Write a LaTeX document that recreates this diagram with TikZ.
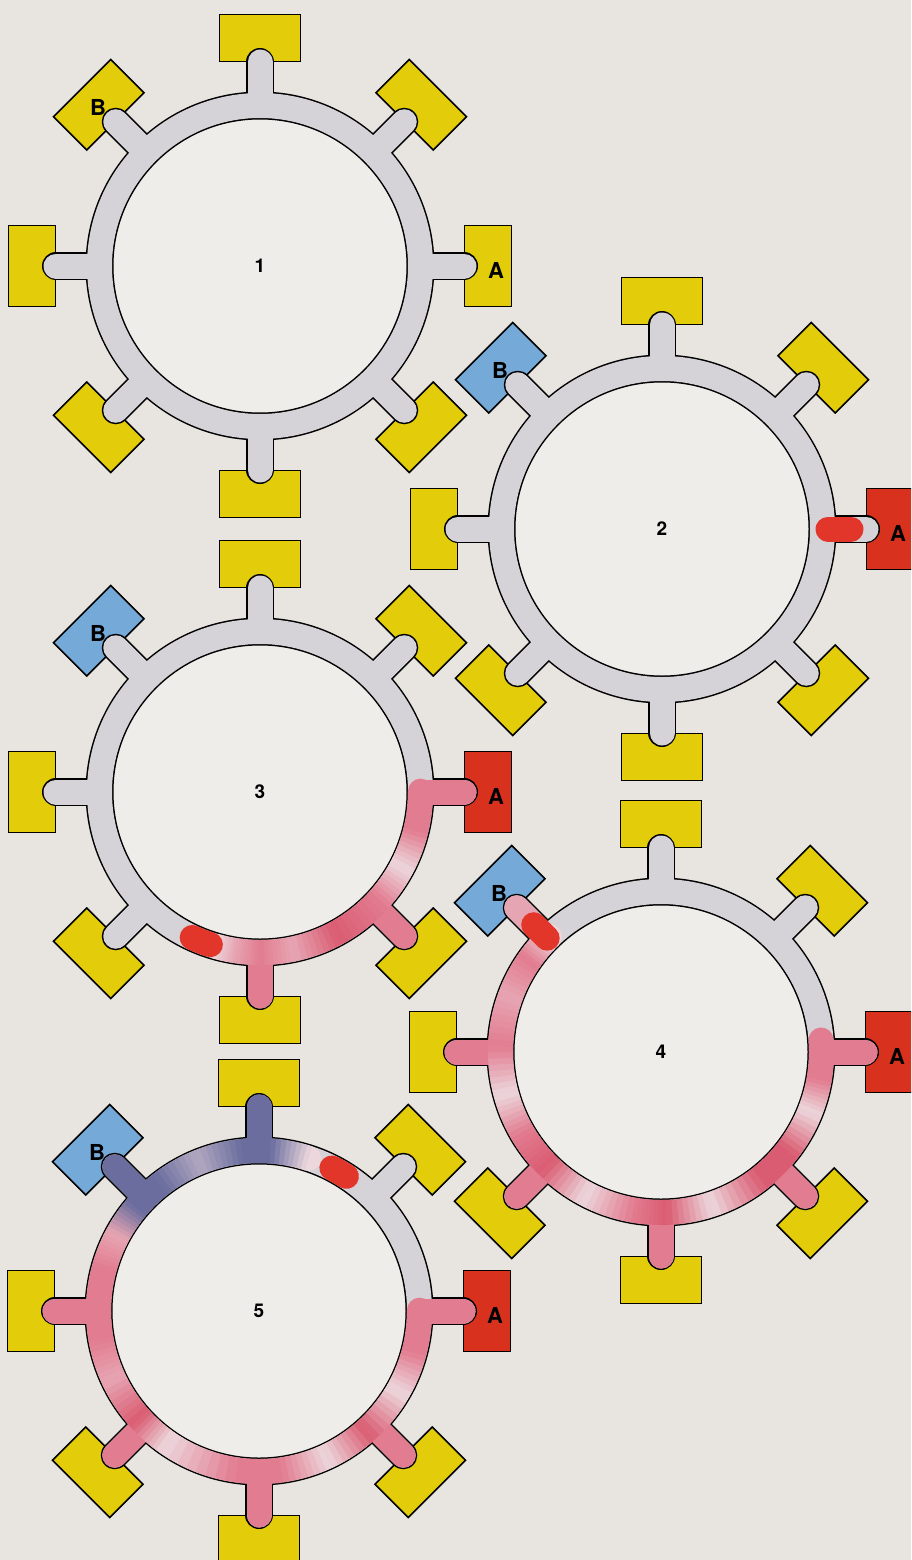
\documentclass[tikz,border=0pt]{standalone}
\usepackage{fontspec}
\setmainfont{TeX Gyre Heros}
\definecolor{paper}{HTML}{E8E5E0}
\definecolor{hole}{HTML}{EFEDE9}
\definecolor{tube}{HTML}{D5D3D8}
\definecolor{port}{HTML}{E3CC0A}
\definecolor{portA}{HTML}{D8321F}
\definecolor{portB}{HTML}{74A9D8}
\definecolor{pk}{HTML}{E27C90}
\definecolor{pkd}{HTML}{DA5C72}
\definecolor{pkl}{HTML}{ECD7DC}
\definecolor{pu}{HTML}{6A6D9E}
\definecolor{head}{HTML}{E2362B}
\colorlet{pkm}{pk!55!pkl}
\colorlet{pul}{pu!45!pkl}
\tikzset{
  ring/.style={line width=25pt},
  rim/.style={line width=28pt,line cap=round},
  trail/.style={line width=25pt,line cap=round},
  band/.style={line width=25pt,line cap=butt},
  pad/.style={draw=black,line width=1.6pt},
  tag/.style={font=\fontsize{22}{22}\selectfont\bfseries,inner sep=0pt},
  num/.style={font=\fontsize{19}{19}\selectfont\bfseries}
}
% one ring with its eight ports: centre, number, colour of B, colour of A
\newcommand\drawring[4]{%
  \fill[hole] (#1) circle[radius=147];
  \foreach \a/\c in {0/#4,45/port,90/port,135/#3,180/port,225/port,270/port,315/port}{
    \begin{scope}[shift={(#1)},rotate=\a]
      \filldraw[pad,fill=\c] (204.5,-40.5) rectangle (251.5,40.5);
    \end{scope}}
  \draw[rim] (#1) circle[radius=160.5];
  \foreach \a in {0,45,...,315}
    \draw[rim] ([shift={(\a:165)}]#1) -- ([shift={(\a:204)}]#1);
  \draw[ring,tube] (#1) circle[radius=160.5];
  \foreach \a in {0,45,...,315}
    \draw[trail,tube] ([shift={(\a:165)}]#1) -- ([shift={(\a:204)}]#1);
  \node[num] (n#2) at (#1) {#2};
}
% piece of a port tube: centre, angle, from, to, colour
\newcommand\stub[5]{\draw[trail,color=#5] ([shift={(#2:#3)}]#1) -- ([shift={(#2:#4)}]#1);}
% coloured trail along the ring, fading from one colour to another
\newcommand\fade[5]{%
  \foreach \k in {0,...,7}{
    \pgfmathsetmacro\sa{(#2)+((#3)-(#2))*\k/8}
    \pgfmathsetmacro\sb{(#2)+((#3)-(#2))*(\k+1.2)/8}
    \pgfmathtruncatemacro\mx{100-100*(\k+0.5)/8}
    \draw[band,color=#4!\mx!#5] ([shift={(\sa:160.5)}]#1)
      arc[start angle=\sa,end angle=\sb,radius=160.5];}}
% rounded end of a trail
\newcommand\tip[3]{\draw[trail,color=#3] ([shift={(#2:160.5)}]#1)
  arc[start angle=#2,end angle=#2+0.3,radius=160.5];}

\begin{document}
\begin{tikzpicture}[x=1pt,y=1pt]
\fill[paper] (0,0) rectangle (911,-1560);
\useasboundingbox (0,0) rectangle (911,-1560);
\clip (0,0) rectangle (911,-1560);

\coordinate (c1) at (260,-266);
\coordinate (c2) at (662,-529);
\coordinate (c3) at (260,-792);
\coordinate (c4) at (661,-1052);
\coordinate (c5) at (259,-1311);

\drawring{c1}{1}{port}{port}
\drawring{c2}{2}{portB}{portA}
\drawring{c3}{3}{portB}{portA}
\drawring{c4}{4}{portB}{portA}
\drawring{c5}{5}{portB}{portA}

% ring 2: signal leaves A
\stub{c2}{0}{166}{189}{head}

% ring 3
\foreach \a in {0,-45,-90} {\stub{c3}{\a}{165}{204}{pk}}
\tip{c3}{0}{pk}
\fade{c3}{0}{-14}{pk}{pk}
\fade{c3}{-14}{-28}{pk}{pkl}
\fade{c3}{-28}{-42}{pkl}{pk}
\fade{c3}{-42}{-62}{pk}{pkd}
\fade{c3}{-62}{-78}{pkd}{pkm}
\fade{c3}{-78}{-90}{pkm}{pk}
\fade{c3}{-90}{-99}{pk}{pkm}
\fade{c3}{-99}{-106}{pkm}{pkl}
\draw[trail,head] ([shift={(-108:160.5)}]c3) arc[start angle=-108,end angle=-115,radius=160.5];

% ring 4
\foreach \a in {0,-45,-90,-135,180} {\stub{c4}{\a}{165}{204}{pk}}
\tip{c4}{4}{pk}
\fade{c4}{4}{-10}{pk}{pk}
\fade{c4}{-10}{-22}{pk}{pkl}
\fade{c4}{-22}{-38}{pkl}{pkd}
\fade{c4}{-38}{-52}{pkd}{pkd}
\fade{c4}{-52}{-72}{pkd}{pkl}
\fade{c4}{-72}{-88}{pkl}{pkd}
\fade{c4}{-88}{-100}{pkd}{pk}
\fade{c4}{-100}{-118}{pk}{pkl}
\fade{c4}{-118}{-135}{pkl}{pkd}
\fade{c4}{-135}{-150}{pkd}{pk}
\fade{c4}{-150}{-165}{pk}{pkl}
\fade{c4}{-165}{-182}{pkl}{pk}
\fade{c4}{-182}{-200}{pk}{pkm}
\fade{c4}{-200}{-215}{pkm}{pk}
\fade{c4}{-215}{-226}{pk}{pkl}
\tip{c4}{-226}{pkl}
\stub{c4}{135}{182}{204}{pkm}
\stub{c4}{135}{161}{180}{head}

% ring 5
\foreach \a in {0,-45,-90,-135,180} {\stub{c5}{\a}{165}{204}{pk}}
\foreach \a in {90,135} {\stub{c5}{\a}{165}{204}{pu}}
\tip{c5}{72}{pkl}
\fade{c5}{72}{86}{pkl}{pu}
\fade{c5}{86}{96}{pu}{pu}
\fade{c5}{96}{112}{pu}{pul}
\fade{c5}{112}{128}{pul}{pu}
\fade{c5}{128}{140}{pu}{pu}
\fade{c5}{140}{152}{pu}{pkm}
\fade{c5}{152}{165}{pkm}{pk}
\fade{c5}{165}{190}{pk}{pk}
\fade{c5}{190}{205}{pk}{pkm}
\fade{c5}{205}{222}{pkm}{pkd}
\fade{c5}{222}{235}{pkd}{pkl}
\fade{c5}{235}{262}{pkl}{pk}
\fade{c5}{262}{278}{pk}{pk}
\fade{c5}{278}{295}{pk}{pkl}
\fade{c5}{295}{312}{pkl}{pkd}
\fade{c5}{312}{330}{pkd}{pkl}
\fade{c5}{330}{345}{pkl}{pk}
\fade{c5}{345}{360}{pk}{pk}
\tip{c5}{360}{pk}
\draw[trail,head] ([shift={(57:160.5)}]c5) arc[start angle=57,end angle=63,radius=160.5];

\foreach \i in {1,...,5}{
  \node[tag] (a\i) at ([shift={(236,-4)}]c\i) {A};
  \node[tag] (b\i) at ([shift={(-162,159)}]c\i) {B};}
\end{tikzpicture}
\end{document}
